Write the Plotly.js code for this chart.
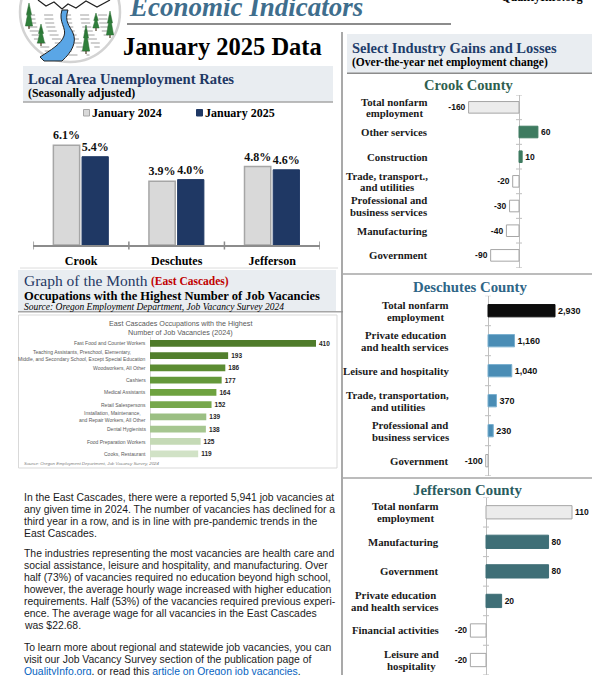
<!DOCTYPE html>
<html><head><meta charset="utf-8">
<script src="https://cdn.plot.ly/plotly-3.0.1.min.js"></script>
<style>html,body{margin:0;padding:0;background:#fff;overflow:hidden}#chart{width:612px;height:675px}</style>
</head><body><div id="chart"></div>
<script>
// ---------------- DATA ----------------
const unempCounties = ['Crook', 'Deschutes', 'Jefferson'];
const unempSeries = ['January 2024', 'January 2025'];
const unempJan2024 = [6.1, 3.9, 4.8];
const unempJan2025 = [5.4, 4.0, 4.6];

const vacOccupations = [
  'Fast Food and Counter Workers',
  'Teaching Assistants, Preschool, Elementary,<br>Middle, and Secondary School, Except Special Education',
  'Woodworkers, All Other',
  'Cashiers',
  'Medical Assistants',
  'Retail Salespersons',
  'Installation, Maintenance,<br>and Repair Workers, All Other',
  'Dental Hygienists',
  'Food Preparation Workers',
  'Cooks, Restaurant'
];
const vacCounts = [410, 193, 186, 177, 164, 152, 139, 138, 125, 119];

const crookIndustries = ['Total nonfarm<br>employment', 'Other services', 'Construction',
  'Trade, transport.,<br>and utilities', 'Professional and<br>business services', 'Manufacturing', 'Government'];
const crookChange = [-160, 60, 10, -20, -30, -40, -90];

const deschutesIndustries = ['Total nonfarm<br>employment', 'Private education<br>and health services',
  'Leisure and hospitality', 'Trade, transportation,<br>and utilities', 'Professional and<br>business services', 'Government'];
const deschutesChange = [2930, 1160, 1040, 370, 230, -100];

const jeffersonIndustries = ['Total nonfarm<br>employment', 'Manufacturing', 'Government',
  'Private education<br>and health services', 'Financial activities', 'Leisure and<br>hospitality'];
const jeffersonChange = [110, 80, 80, 20, -20, -20];

const paragraph1 = [
  'In the East Cascades, there were a reported 5,941 job vacancies at',
  'any given time in 2024. The number of vacancies has declined for a',
  'third year in a row, and is in line with pre-pandemic trends in the',
  'East Cascades.'
];
const paragraph2 = [
  'The industries representing the most vacancies are health care and',
  'social assistance, leisure and hospitality, and manufacturing. Over',
  'half (73%) of vacancies required no education beyond high school,',
  'however, the average hourly wage increased with higher education',
  'requirements. Half (53%) of the vacancies required previous experi-',
  'ence. The average wage for all vacancies in the East Cascades',
  'was $22.68.'
];
const paragraph3 = [
  'To learn more about regional and statewide job vacancies, you can',
  'visit our Job Vacancy Survey section of the publication page of',
  '<span style="color:#0563c1">QualityInfo.org</span>, or read this <span style="color:#0563c1">article on Oregon job vacancies</span>.'
];

// ---------------- HELPERS ----------------
const W = 612, H = 675;
const X = p => p / W, Y = p => 1 - p / H;
const SERIF = '"Liberation Serif", "Times New Roman", serif';
const SANS = '"Liberation Sans", Arial, sans-serif';
const annotations = [], shapes = [];

function txt(text, x, y, o = {}) {
  annotations.push({text, x: X(x), y: Y(y), xref: 'paper', yref: 'paper',
    xanchor: o.xa || 'left', yanchor: 'middle', showarrow: false, align: o.align || 'left',
    font: {family: o.family || SERIF, size: o.size || 12, color: o.color || '#000',
      weight: o.weight || 'normal', style: o.style || 'normal'}});
}
function rect(x0, y0, x1, y1, fill, lc, lw, layer) {
  shapes.push({type: 'rect', xref: 'paper', yref: 'paper', x0: X(x0), x1: X(x1), y0: Y(y1), y1: Y(y0),
    fillcolor: fill || 'rgba(0,0,0,0)', line: {color: lc || 'rgba(0,0,0,0)', width: lw || 0}, layer: layer || 'below'});
}
function hline(x0, y0, x1, y1, color, w, dash) {
  shapes.push({type: 'line', xref: 'paper', yref: 'paper', x0: X(x0), y0: Y(y0), x1: X(x1), y1: Y(y1),
    line: {color, width: w, dash: dash || 'solid'}});
}
function path(d, fill, color, w) {
  const conv = d.replace(/(-?\d+(?:\.\d+)?)\s+(-?\d+(?:\.\d+)?)/g, (m, a, b) => X(+a).toFixed(5) + ',' + Y(+b).toFixed(5));
  shapes.push({type: 'path', xref: 'paper', yref: 'paper', path: conv, fillcolor: fill, line: {color, width: w}});
}
const cv = document.createElement('canvas').getContext('2d');
function measure(t, size, family, weight) { cv.font = `${weight} ${size}px ${family}`; return cv.measureText(t).width; }
function catLabels(labels, ax, xRight, size, gap, family, weight, color) {
  labels.forEach((lab, i) => {
    const ls = lab.split('<br>');
    const bw = Math.max(...ls.map(l => measure(l, size, family, weight)));
    ls.forEach((l, j) => {
      annotations.push({text: l, xref: 'paper', yref: 'y' + ax, x: X(xRight - bw / 2), y: i,
        xanchor: 'center', yanchor: 'middle', yshift: ((ls.length - 1) / 2 - j) * gap, showarrow: false,
        font: {family, size, color, weight}});
    });
  });
}
function zeroTicks(n, ax) {
  for (let k = 0; k <= n; k++) {
    shapes.push({type: 'line', xref: 'x' + ax, yref: 'y' + ax, xsizemode: 'pixel', xanchor: 0,
      x0: -3, x1: 3, y0: k - 0.5, y1: k - 0.5, line: {color: '#bfbfbf', width: 1}});
  }
}

// ---------------- LOGO ----------------
shapes.push({type: 'circle', xref: 'paper', yref: 'paper', x0: X(20), x1: X(120), y0: Y(62), y1: Y(-38),
  fillcolor: '#fff', line: {color: '#d3d3d3', width: 2.5}});
for (let yy = 15; yy <= 57; yy += 4) {
  const hw = Math.sqrt(50 * 50 - (yy - 12) * (yy - 12)) - 6;
  hline(70 - hw, yy, 70 + hw, yy, '#a0a0a0', 1, 'dash');
}
path('M 38 0 L 46 6 L 54 2 L 62 9 L 68 4 L 76 8 L 86 1 L 97 7 L 110 0', 'rgba(0,0,0,0)', '#222', 1.2);
path('M 62 10 C 58 22 67 28 64 36 C 61 44 51 50 40 57 L 44 61 L 62 61 C 72 52 77 42 73 33 C 70 26 64 22 68 10 Z', '#5aa6e6', '#222', 1);
function tree(x, top, bottom, hw) {
  const m = (top + bottom) / 2;
  path(`M ${x} ${top} L ${x - hw * 0.7} ${m} L ${x + hw * 0.7} ${m} Z`, '#2f7f3b', '#2a6b33', 0.5);
  path(`M ${x} ${top + 4} L ${x - hw} ${bottom} L ${x + hw} ${bottom} Z`, '#2f7f3b', '#2a6b33', 0.5);
  hline(x, bottom, x, bottom + 3, '#4a3b22', 1.2);
}
tree(29, 3, 26, 3.6); tree(41, 24, 43, 3.6); tree(96, 13, 28, 3.2); tree(110, 11, 35, 3.6); tree(86, 25, 51, 3.6);

// ---------------- PAGE DECORATION ----------------
hline(127, 24, 451, 24, '#8c8c8c', 2);
rect(23, 66, 333, 102, '#e9edf1');
hline(23, 102, 333, 102, '#a6a6a6', 1.5);
hline(20, 268, 338, 268, '#dcdcdc', 1);
rect(18, 270, 336, 311.5, '#e9edf1');
hline(18, 311.7, 343, 311.7, '#a6a6a6', 1.5);
rect(18.5, 315, 337, 468, null, '#d9d9d9', 1);
hline(342, 32, 342, 675, '#8c8c8c', 1.5);
rect(347, 34, 592, 73, '#e9edf1');
hline(347, 73.3, 592, 73.3, '#8c8c8c', 1.5);
hline(343, 274, 592, 274, '#a6a6a6', 1.5);
hline(343, 478, 592, 478, '#a6a6a6', 1.5);

// legend squares
rect(83.5, 109.5, 89.5, 116, '#d9d9d9', '#a6a6a6', 1, 'above');
rect(196.5, 109.5, 202.5, 116, '#1f3864', '#1f3864', 1, 'above');
// unemployment boundary ticks
for (let k = 0; k <= unempCounties.length; k++) {
  shapes.push({type: 'line', xref: 'x', yref: 'paper', x0: k - 0.5, x1: k - 0.5, y0: Y(249.5), y1: Y(241.5),
    line: {color: '#8c8c8c', width: 1.5}});
}

// ---------------- TEXTS ----------------
txt('Economic Indicators', 127, 6.5, {size: 27, weight: 'bold', style: 'italic', color: '#3f6e8d'});
txt('QualityInfo.org', 541.5, -2.5, {size: 12.2, weight: 'bold', xa: 'center'});
txt('January 2025 Data', 121, 47, {size: 24.5, weight: 'bold'});
txt('Local Area Unemployment Rates', 26, 78.5, {size: 14.6, weight: 'bold', color: '#1f3864'});
txt('(Seasonally adjusted)', 26, 93, {size: 11.8, weight: 'bold'});
txt(unempSeries[0], 90, 113, {size: 12, weight: 'bold'});
txt(unempSeries[1], 203, 113, {size: 12, weight: 'bold'});

txt('Graph of the Month', 22, 280.5, {size: 15.5, color: '#1f3864'});
txt('(East Cascades)', 149, 281.5, {size: 11.5, weight: 'bold', color: '#c00000'});
txt('Occupations with the Highest Number of Job Vacancies', 22, 295.5, {size: 12.5, weight: 'bold'});
txt('Source: Oregon Employment Department, Job Vacancy Survey 2024', 22, 306.5, {size: 9.5, style: 'italic'});
txt('East Cascades Occupations with the Highest', 180, 323.5, {size: 7.2, family: SANS, color: '#595959', xa: 'center'});
txt('Number of Job Vacancies (2024)', 180, 332.5, {size: 7.2, family: SANS, color: '#595959', xa: 'center'});
txt('Source: Oregon Employment Department, Job Vacancy Survey, 2024', 22, 463.5, {size: 4.4, family: SANS, style: 'italic', color: '#7f7f7f'});

const pFont = {size: 10.4, family: SANS, color: '#1a1a1a'};
paragraph1.forEach((l, i) => txt(l, 21.5, 497 + i * 12, pFont));
paragraph2.forEach((l, i) => txt(l, 21.5, 553 + i * 12, pFont));
paragraph3.forEach((l, i) => txt(l, 21.5, 647.5 + i * 12, pFont));

txt('Select Industry Gains and Losses', 350, 48, {size: 14.5, weight: 'bold', color: '#1f3d6b'});
txt('(Over-the-year net employment change)', 350, 62.5, {size: 11.5, weight: 'bold'});
txt('Crook County', 469, 85, {size: 14.5, weight: 'bold', color: '#2f5f4f', xa: 'center'});
txt('Deschutes County', 470, 287, {size: 14.8, weight: 'bold', color: '#2f6687', xa: 'center'});
txt('Jefferson County', 468, 490, {size: 14.8, weight: 'bold', color: '#2a5c5f', xa: 'center'});

// category labels for horizontal bar charts
catLabels(vacOccupations, 2, 145.7, 5, 7, SANS, 'normal', '#595959');
catLabels(crookIndustries, 3, 427.5, 10.8, 11.5, SERIF, 'bold', '#1a1a1a');
catLabels(deschutesIndustries, 4, 449, 10.8, 11.7, SERIF, 'bold', '#1a1a1a');
catLabels(jeffersonIndustries, 5, 439, 10.8, 12.3, SERIF, 'bold', '#1a1a1a');
zeroTicks(crookIndustries.length, 3);
zeroTicks(deschutesIndustries.length, 4);
zeroTicks(jeffersonIndustries.length, 5);

// ---------------- TRACES ----------------
const numTxt = v => v.toLocaleString('en-US');
const uLabelFont = {family: SERIF, size: 12, color: '#111', weight: 'bold'};
const traces = [
  {type: 'bar', x: unempCounties, y: unempJan2024, name: unempSeries[0], xaxis: 'x', yaxis: 'y',
    offset: -0.29, width: 0.275, marker: {color: '#d9d9d9', line: {color: '#a6a6a6', width: 1.5}},
    texttemplate: '%{y:.1f}%', textposition: 'outside', textangle: 0, textfont: uLabelFont, cliponaxis: false, constraintext: 'none'},
  {type: 'bar', x: unempCounties, y: unempJan2025, name: unempSeries[1], xaxis: 'x', yaxis: 'y',
    offset: 0.01, width: 0.275, marker: {color: '#1f3864', line: {color: '#1f3864', width: 1}},
    texttemplate: '%{y:.1f}%', textposition: 'outside', textangle: 0, textfont: uLabelFont, cliponaxis: false, constraintext: 'none'}
];
const vacPalette = ['#4f7b2a', '#527f2d', '#5c8c32', '#64983a', '#6ea23f', '#77a84c', '#9bbf83', '#a6c690', '#c5dab6', '#d1e2c6'];
function hbar(cats, vals, ax, colors, lineColors, width, tf, lw) {
  return {type: 'bar', orientation: 'h', y: cats, x: vals, xaxis: 'x' + ax, yaxis: 'y' + ax, width,
    marker: {color: colors, line: {color: lineColors, width: lw}}, text: vals.map(numTxt),
    textposition: 'outside', textangle: 0, textfont: tf, cliponaxis: false, constraintext: 'none'};
}
traces.push(hbar(vacOccupations, vacCounts, 2, vacPalette, vacPalette, 0.55,
  {family: SANS, size: 6.5, color: '#262626', weight: 'bold'}, 0));
const countyColors = (vals, pos, total) => vals.map((v, i) => i === 0 ? total : (v < 0 ? '#ffffff' : pos));
traces.push(hbar(crookIndustries, crookChange, 3, countyColors(crookChange, '#3e7b60', '#ececec'),
  countyColors(crookChange, '#3e7b60', '#a6a6a6').map(c => c === '#ffffff' ? '#a6a6a6' : c), 0.47,
  {family: SANS, size: 8.5, color: '#111', weight: 'bold'}, 1));
traces.push(hbar(deschutesIndustries, deschutesChange, 4, countyColors(deschutesChange, '#4a8db5', '#0d0d0d'),
  countyColors(deschutesChange, '#7ab0cf', '#0d0d0d').map(c => c === '#ffffff' ? '#a6a6a6' : c), 0.41,
  {family: SANS, size: 9, color: '#111', weight: 'bold'}, 1));
traces.push(hbar(jeffersonIndustries, jeffersonChange, 5, countyColors(jeffersonChange, '#3f6f77', '#ececec'),
  countyColors(jeffersonChange, '#3f6f77', '#a6a6a6').map(c => c === '#ffffff' ? '#a6a6a6' : c), 0.45,
  {family: SANS, size: 8.5, color: '#111', weight: 'bold'}, 1));
traces.forEach(t => { t.showlegend = false; t.hoverinfo = 'none'; });

// ---------------- AXES ----------------
function hx(l, r, zeroPx, pxPerUnit, zc) {
  return {domain: [X(l), X(r)], range: [-(zeroPx - l) / pxPerUnit, (r - zeroPx) / pxPerUnit], autorange: false,
    showgrid: false, showticklabels: false, ticks: '', showline: false, zeroline: true, zerolinecolor: zc || '#bfbfbf',
    zerolinewidth: 1, fixedrange: true};
}
function hy(top, bottom, cats) {
  return {domain: [Y(bottom), Y(top)], type: 'category', categoryorder: 'array', categoryarray: cats,
    range: [cats.length - 0.5, -0.5], autorange: false, showgrid: false, showticklabels: false, ticks: '',
    zeroline: false, showline: false, fixedrange: true};
}
const layout = {
  width: W, height: H, margin: {l: 0, r: 0, t: 0, b: 0}, paper_bgcolor: '#fff', plot_bgcolor: 'rgba(0,0,0,0)',
  showlegend: false, hovermode: false, barmode: 'group', font: {family: SERIF, color: '#000'},
  annotations, shapes,
  xaxis: {domain: [X(33.3), X(320)], anchor: 'y', type: 'category', range: [-0.5, 2.5], autorange: false,
    showline: true, linecolor: '#8c8c8c', linewidth: 2, ticks: '', showgrid: false, zeroline: false,
    tickfont: {family: SERIF, size: 12, weight: 'bold', color: '#000'}, ticklabelstandoff: 4, fixedrange: true},
  yaxis: {domain: [Y(245), Y(115)], anchor: 'x', range: [0, 130 / 16.35], autorange: false, visible: false, fixedrange: true},
  xaxis2: Object.assign(hx(150, 334, 150, 166 / 410, '#d9d9d9'), {anchor: 'y2'}),
  yaxis2: Object.assign(hy(337.2, 459.9, vacOccupations), {anchor: 'x2'}),
  xaxis3: Object.assign(hx(431, 600, 519, 0.315), {anchor: 'y3'}),
  yaxis3: Object.assign(hy(95, 267.7, crookIndustries), {anchor: 'x3'}),
  xaxis4: Object.assign(hx(452, 600, 488, 67 / 2930), {anchor: 'y4'}),
  yaxis4: Object.assign(hy(295.7, 475.7, deschutesIndustries), {anchor: 'x4'}),
  xaxis5: Object.assign(hx(441, 600, 486, 0.782), {anchor: 'y5'}),
  yaxis5: Object.assign(hy(497.5, 674.8, jeffersonIndustries), {anchor: 'x5'})
};
Plotly.newPlot('chart', traces, layout, {displayModeBar: false, staticPlot: true});
</script>
</body></html>
